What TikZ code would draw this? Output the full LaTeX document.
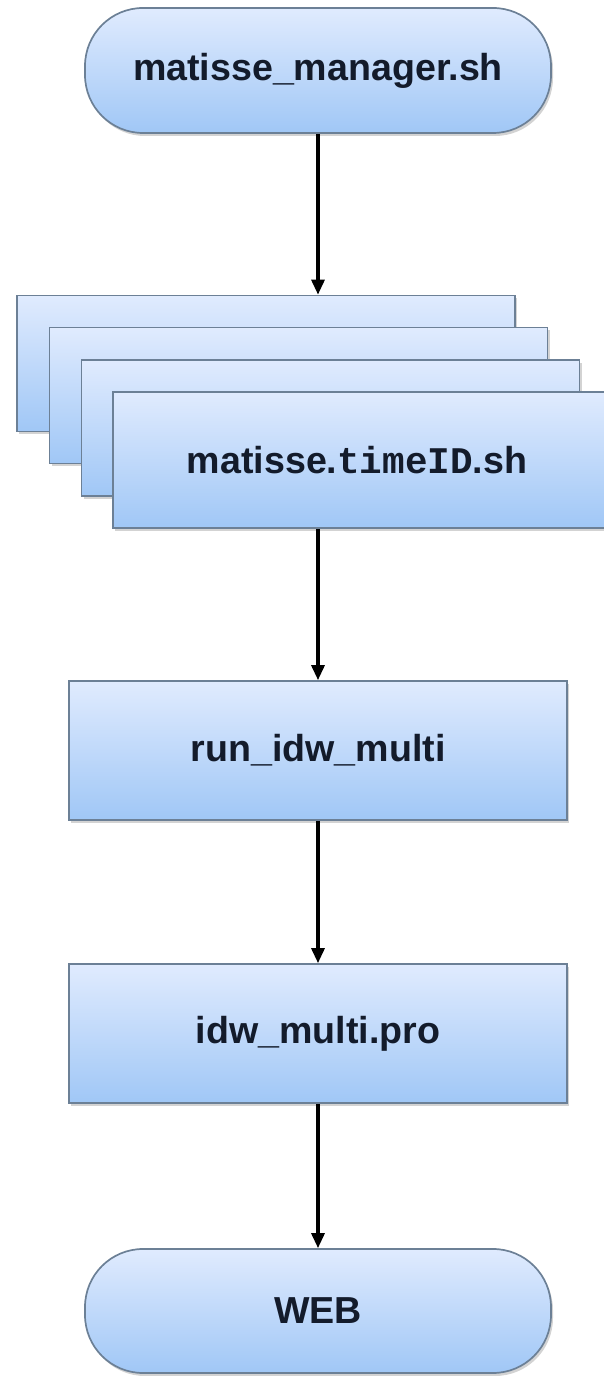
\documentclass[tikz,border=0pt]{standalone}
\usepackage{fontspec}
\setmainfont{Liberation Sans}
\newfontfamily\codefont{Liberation Mono}
\usetikzlibrary{arrows.meta,shadows}
\definecolor{boxtop}{HTML}{E0EBFE}
\definecolor{boxbot}{HTML}{A0C7F6}
\definecolor{boxline}{HTML}{6C8096}
\definecolor{txt}{HTML}{131B2B}
\tikzset{
  x=1pt,y=1pt,
  blockbase/.style={draw=boxline, line width=1.7pt, top color=boxtop, bottom color=boxbot,
    drop shadow={shadow xshift=2pt, shadow yshift=-3pt, opacity=0.35, fill=gray},
    font=\fontsize{37.6}{44}\selectfont\bfseries, text=txt, inner sep=0pt},
  procbox/.style={blockbase, rectangle, minimum width=498pt, minimum height=137pt},
  termbox/.style={blockbase, rectangle, rounded corners=58pt, minimum width=466pt, minimum height=125pt},
  flow/.style={line width=3.2pt, black, -{Triangle[length=15pt,width=13pt]}}
}
\begin{document}
\begin{tikzpicture}
\useasboundingbox (0,0) rectangle (604,1377);
\clip (0,0) rectangle (604,1377);
\node[termbox] (top) at (318,1306.5) {matisse\_manager.sh};
\node[procbox, minimum height=136pt] (b1) at (266,1013.5) {};
\node[procbox, minimum height=136pt] (b2) at (298.5,981.5) {};
\node[procbox, minimum height=136pt] (b3) at (330.5,949) {};
\node[procbox, minimum height=136pt] (b4) at (362,917) {\hspace*{-10pt}matisse.{\codefont\bfseries timeID}.sh};
\node[procbox, minimum height=139pt] (run) at (318,626.5) {run\_idw\_multi};
\node[procbox, minimum height=139pt] (idw) at (318,343.5) {idw\_multi.pro};
\node[termbox, minimum height=124pt] (web) at (318,66) {WEB};
\draw[flow] (top.south) -- (top.south |- b1.north);
\draw[flow] (run.north |- b4.south) -- (run.north);
\draw[flow] (run.south) -- (idw.north);
\draw[flow] (idw.south) -- (web.north);
\end{tikzpicture}
\end{document}
